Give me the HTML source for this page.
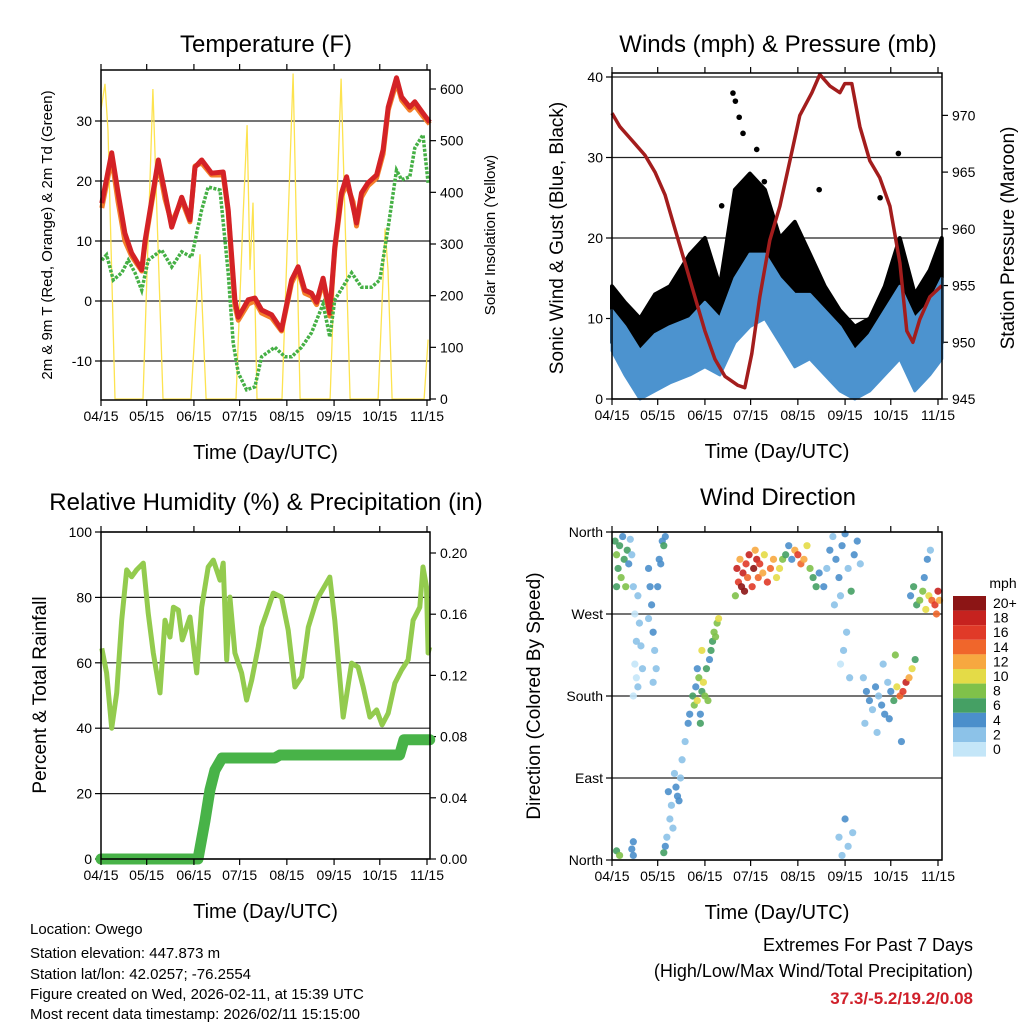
<!DOCTYPE html>
<html><head><meta charset="utf-8">
<style>
html,body{margin:0;padding:0;background:#fff;}
svg{display:block;font-family:"Liberation Sans",sans-serif;}
</style></head>
<body>
<svg id="c" width="1024" height="1024" viewBox="0 0 1024 1024">
<text x="30" y="934" font-size="15">Location: Owego</text>
<text x="30" y="958" font-size="15">Station elevation: 447.873 m</text>
<text x="30" y="979" font-size="15">Station lat/lon: 42.0257; -76.2554</text>
<text x="30" y="999" font-size="15">Figure created on Wed, 2026-02-11, at 15:39 UTC</text>
<text x="30" y="1019" font-size="15">Most recent data timestamp: 2026/02/11 15:15:00</text>
<text x="973" y="951" font-size="18" text-anchor="end">Extremes For Past 7 Days</text>
<text x="973" y="977" font-size="18" text-anchor="end">(High/Low/Max Wind/Total Precipitation)</text>
<text x="973" y="1004" font-size="17" font-weight="bold" fill="#d0202a" text-anchor="end">37.3/-5.2/19.2/0.08</text>
</svg>
<script>
// ---- shared x-axis ----
const xTickLabels = ["04/15","05/15","06/15","07/15","08/15","09/15","10/15","11/15"];
const xTickDays = [0,30,61,91,122,153,183,214];
// ---- temperature ----
const tempRedDays = [0.5,7,11.2,15.7,20.1,26.7,28.9,37.6,42,46.4,53,58.4,61.7,66.1,72.6,80.2,83.5,87.9,90.1,96.6,101,105.4,112,118.5,125.1,129.4,133.8,138.2,141.5,145.8,150.2,153.5,157.9,161.2,165.5,167.7,171,175.3,180.9,185.2,188.5,194,197.3,202.7,206,211.4,215.8];
const tempRedVals = [16.3,24.7,18,11.3,8,5.2,10,23.5,18,12.3,17.3,13.5,22.3,23.5,21.3,21.5,15.2,0.2,-2.7,0.2,0.5,-1.5,-2.3,-4.8,3.5,5.7,1.8,1.3,-0.2,3.8,-2,9,18,20.7,15.7,13,18,19.7,21,25.2,32.3,37.2,34,32.3,33.2,31.3,29.8];
const tempOrangeVals = [15.5,23.8,16.5,10,7.5,5,9.5,23,17,13,16.8,13.2,22.5,23,21,21,14.8,-0.8,-3.2,-0.5,0,-2,-2.8,-5,3,5.2,1.3,0.8,-0.6,3.3,-2.5,8.5,17.5,19.5,16.5,12.5,17.3,19.2,20.5,24.5,31.8,36.5,33.5,31.8,32.6,30.8,29.5];
const tdDays = [0.5,3.7,8.1,13.6,17.9,22.3,26.7,31,39.8,46.4,53,59.5,66.1,70.4,78.1,83.5,86.8,90.1,95.6,101,105.4,114.1,120.7,125.1,131.7,138.2,145.8,150.2,153.5,164.5,171,177.6,183,188.5,194,197.3,202.7,206,211.4,214.7];
const tdVals = [6.8,7.7,3.5,4.7,6.8,4.7,1.8,6.8,8.5,5.7,8.2,7.3,15.2,19,18.5,4.7,-7,-12,-14.8,-14.3,-9.3,-7.7,-9.3,-9.3,-7.7,-5.3,-0.5,-6,0.2,4.7,2.3,2.3,3.5,12.3,21.8,20.2,20.7,25.5,27.7,19.7];
const solarDays = [0,2.6,4.6,9.2,27.6,34.1,40.7,59.1,62,65,69,88.6,93.2,95.9,97.8,99.8,102.4,118.8,126.1,130.7,150.4,157.6,163.5,181.9,186.5,188.4,191.1,212.1,214.7];
const solarVals = [560,610,520,0,0,600,0,0,150,280,0,0,350,530,250,380,0,0,630,0,0,620,0,0,330,250,0,0,115];
const tempTicks = [-10,0,10,20,30];
const solarTicks = [0,100,200,300,400,500,600];
// ---- winds ----
const windDays = [0,8.5,18.4,28.2,38,51.2,61,70.8,80.7,90.5,100.4,110.2,120,129.9,139.7,149.6,159.4,169.2,179.1,188.9,198.8,208.6,216.5];
const gustLo = [7,5,2,3,5,7,7,5,10,12,12,9,8,7,5,3,1,2,5,7,3,5,7];
const gustHi = [14,12,10,13,14,18,20,14,26,28,26,20,22,18,14,11,9,10,14,20,13,16,20];
const windLo = [6,3,0,1,2,3,4,3,7,9,10,7,4,5,3,1,0,1,3,5,1,3,5];
const windHi = [11,9,6,8,9,10,12,10,15,18,18,15,13,13,11,9,6,8,11,14,10,12,15];
const gustOutDays = [79.4,81,83.5,86,100,136,188,95,72,176];
const gustOutVals = [38,37,35,33,27,26,30.5,31,24,25];
const presDays = [0,5.2,11.8,21.6,28.2,34.8,41.3,47.9,54.4,61,67.6,74.1,82.7,87.2,91.8,97,103.6,110.2,116.8,123.3,131.2,136.4,143,149.6,152.8,157.4,162.7,169.2,175.8,182.4,189,193.5,197.5,202,208.6,216.5];
const presVals = [970.2,969,968,966.5,965,963,960,957,954,951,948.5,947,946.2,946,949,954,959,962,966,970,972,973.6,972.6,972,972.8,972.8,969,966,964.5,962,957,951,950,952,954,955];
const windTicks = [0,10,20,30,40];
const presTicks = [945,950,955,960,965,970];
// ---- humidity / precip ----
const rhDays = [0.5,3.7,7,10.3,13.6,16.9,20.1,23.4,27.8,31,34.3,38.7,42,45.3,47.5,50.8,53.4,58.4,62.8,66.1,70.4,73.7,78.1,80.2,82.5,84.6,87.9,92.3,95.6,98.9,103.2,105.4,108.7,113.1,118.5,122.9,127.3,131.7,136.1,141.5,150.2,153.5,159,164.5,168.8,172.1,176.5,180.9,184.5,188.5,192.9,197.3,201.6,204.9,209.3,211.4,213.7,214.7,215.8];
const rhVals = [64.4,56.9,40,50.8,73,88.4,86.3,88.4,90.5,75.2,63,50.8,73,67.9,77,76.1,67,74,56.9,77,89.3,91.4,85.3,90.5,60.9,80.1,63,56.9,48.6,54.7,64.8,70.9,75.2,81.3,80.1,70,52.6,55.7,70.9,79.2,86.2,73,43.4,59.9,58.7,52.6,43.4,45.6,41,44.6,53.8,57.8,60.9,73,77,89.3,83.2,63,64.8];
const prDays = [0,63.7,68.3,71.5,74.8,79.4,114,117.5,196,198.9,215.8];
const prVals = [0,0,0.025,0.045,0.058,0.066,0.066,0.068,0.068,0.078,0.078];
const rhTicks = [0,20,40,60,80,100];
const prTicks = [0,0.04,0.08,0.12,0.16,0.20];
// ---- wind direction ----
const dirLabels = ["North","East","South","West","North"];
const dirTicks = [0,90,180,270,360];
const speedBins = ["0","2","4","6","8","10","12","14","16","18","20+"];
const speedColors = ["#c4e6f8","#8cc2e8","#4b8fcb","#45a064","#80c14a","#e4db47","#f7a840","#f0662b","#e03a28","#c6221f","#8c1515"];
const dirDays = [2,3,4,5,6,7,8,9,10,11,12,3, 13,14,15,16,15,16,17,14,18,19,17,20, 24,25,26,27,28,24,30,31,33,34,35,32,29,27, 3,5,14,14,13, 34,36,38,39,40,37,42,43,45,46,48,50,51,35,44,41, 53,54,55,56,57,58,59,60,61,62,63,64,65,66,67,68,69,70,56,58,59, 81,82,83,84,85,86,88,89,90,92,93,95,96,97,99,100,102,104,106,108,87,94, 110,112,114,116,118,120,122,124,126,128,130,132,134,136, 139,141,143,145,147,149,151,153,155,157,159,161,163,150,146, 150,152,154,156,149,151,155,158,153, 165,167,169,171,173,175,177,179,181,183,185,187,189,191,193,195,197,199,166,174,182,190,178,186, 196,198,200,202,204,206,208,210,212,214,213,215,205,207,209];
const dirVals = [350,335,320,345,310,355,330,300,340,325,352,300, 335,300,270,240,215,200,190,180,260,235,290,210, 320,300,280,250,230,265,300,330,350,345,355,325,210,195, 10,5,20,5,12, 8,25,45,60,35,75,80,70,90,110,130,150,160,15,65,95, 180,170,190,175,200,160,185,195,180,210,175,220,230,240,250,245,260,265,210,150,230, 290,320,305,330,300,315,325,310,335,300,320,330,310,325,315,335,305,320,330,310,295,340, 320,330,335,345,330,340,335,325,330,345,320,310,300,315, 300,320,340,355,330,310,345,358,320,295,335,350,325,290,280, 215,230,250,200,25,5,15,30,45, 200,185,175,165,190,180,170,160,195,185,175,190,180,185,195,200,210,220,150,140,155,130,215,225, 290,300,280,285,295,275,290,285,280,295,270,285,310,330,340];
const dirSpeeds = [6,7,6,5,7,4,6,7,5,3,2,6, 1,1,0,1,0,0,1,0,2,1,1,2, 3,4,3,3,2,2,4,4,4,5,4,3,2,1, 6,7,3,4,4, 6,2,1,2,1,3,4,4,2,1,2,3,4,4,3,1, 6,7,4,9,8,4,6,10,8,6,7,4,5,6,7,8,7,10,3,5,9, 8,18,16,12,20,18,16,14,18,16,20,18,14,16,12,10,16,14,12,10,20,12, 10,8,6,4,4,12,16,14,12,10,8,6,6,4, 4,2,3,2,4,3,4,4,2,6,3,4,2,2,1, 0,2,1,1,2,1,2,1,3, 2,4,3,2,4,1,3,4,2,3,6,10,14,16,18,12,10,6,2,1,3,4,2,8, 4,5,6,8,7,9,10,14,16,18,14,12,4,3,2];

const NS="http://www.w3.org/2000/svg";
const svg=document.getElementById('c');
function el(tag,attrs,parent){const e=document.createElementNS(NS,tag);for(const k in attrs)e.setAttribute(k,attrs[k]);(parent||svg).appendChild(e);return e;}
function txt(s,attrs,parent){const e=el('text',attrs,parent);e.textContent=s;return e;}
function lin(d0,d1,r0,r1){return v=>r0+(v-d0)*(r1-r0)/(d1-d0);}
function pathOf(xs,ys,fx,fy){return xs.map((d,i)=>(i?'L':'M')+fx(d).toFixed(1)+','+fy(ys[i]).toFixed(1)).join('');}

function frame(P,name){
  const g=el('g',{});
  
  
  return g;
}
function xAxis(g,P,fx){
  xTickDays.forEach((d,i)=>{
    const x=fx(d);
    el('line',{x1:x,x2:x,y1:P.b,y2:P.b+6,stroke:'#000','stroke-width':1.2},g);
    el('line',{x1:x,x2:x,y1:P.t,y2:P.t-6,stroke:'#000','stroke-width':1.2},g);
    const t=txt(xTickLabels[i],{x:x,y:P.b+21,'font-size':14,'text-anchor':'middle'},g);
    
    
  });
  const t=txt('Time (Day/UTC)',{x:(P.l+P.r)/2,y:P.b+59,'font-size':20,'text-anchor':'middle'},g);
  
  
}
function yLeft(g,P,ticks,fy,labels,grid,dec){
  ticks.forEach((v,i)=>{
    const y=fy(v);
    if(grid) el('line',{x1:P.l,x2:P.r,y1:y,y2:y,stroke:'#222','stroke-width':1.2},g);
    el('line',{x1:P.l-6,x2:P.l,y1:y,y2:y,stroke:'#000','stroke-width':1.2},g);
    const t=txt(labels?labels[i]:(dec?v.toFixed(dec):v),{x:P.l-9,y:y+5,'font-size':14,'text-anchor':'end'},g);
    
    
  });
}
function yRight(g,P,ticks,fy,dec){
  ticks.forEach(v=>{
    const y=fy(v);
    el('line',{x1:P.r,x2:P.r+6,y1:y,y2:y,stroke:'#000','stroke-width':1.2},g);
    const t=txt(dec?v.toFixed(dec):String(v),{x:P.r+10,y:y+5,'font-size':14},g);
    
    
  });
}
function box(g,P){el('rect',{x:P.l,y:P.t,width:P.r-P.l,height:P.b-P.t,fill:'none',stroke:'#000','stroke-width':1.5},g);}
function rotText(g,s,x,y,size,name){
  const t=txt(s,{x:x,y:y,'font-size':size,'text-anchor':'middle',transform:`rotate(-90 ${x} ${y})`},g);
  
  
}
function title(g,s,x,y,name){
  const t=txt(s,{x:x,y:y,'font-size':24,'text-anchor':'middle'},g);
  
  
}

// ===== Panel 1: temperature =====
(function(){
  const P={l:101,r:430,t:70,b:400};
  const g=frame(P,'temperature-panel');
  const fx=lin(0,214,101,427), fy=lin(30,-10,121,361), fs=lin(0,600,399,89);
  yLeft(g,P,tempTicks,fy,null,true);
  yRight(g,P,solarTicks,fs);
  const s=el('path',{d:pathOf(solarDays,solarVals,fx,fs),fill:'none',stroke:'#fde34f','stroke-width':1.3},g);
  
  
  const o=el('path',{d:pathOf(tempRedDays,tempOrangeVals,fx,fy),fill:'none',stroke:'#f47f2a','stroke-width':5,'stroke-linejoin':'round'},g);
  
  
  const r=el('path',{d:pathOf(tempRedDays,tempRedVals,fx,fy),fill:'none',stroke:'#d42226','stroke-width':5,'stroke-linejoin':'round'},g);
  
  
  const d=el('path',{d:pathOf(tdDays,tdVals,fx,fy),fill:'none',stroke:'#45b045','stroke-width':3.5,'stroke-dasharray':'3 1.5'},g);
  
  
  box(g,P); xAxis(g,P,fx);
  title(g,'Temperature (F)',266,52,'temperature-title');
  rotText(g,'2m & 9m T (Red, Orange) & 2m Td (Green)',52,235,15,'temperature-y-title');
  rotText(g,'Solar Insolation (Yellow)',495,235,15,'solar-y-title');
})();

// ===== Panel 2: winds =====
(function(){
  const P={l:612,r:942,t:73,b:399};
  const g=frame(P,'winds-panel');
  const fx=lin(0,214,612,938), fy=lin(0,40,399,77), fp=lin(945,974,399,70);
  yLeft(g,P,windTicks,fy,null,true);
  yRight(g,P,presTicks,fp);
  const band=(lo,hi)=>pathOf(windDays,hi,fx,fy)+windDays.slice().reverse().map((d,i)=>'L'+fx(d).toFixed(1)+','+fy(lo[lo.length-1-i]).toFixed(1)).join('')+'Z';
  const gb=el('path',{d:band(gustLo,gustHi),fill:'#000',stroke:'#000','stroke-width':4,'stroke-linejoin':'round'},g);
  
  
  gustOutDays.forEach((d,i)=>{
    const c=el('circle',{cx:fx(d),cy:fy(gustOutVals[i]),r:2.8,fill:'#000'},g);
    
    
  });
  const wb=el('path',{d:band(windLo,windHi),fill:'#4c93cf',stroke:'#4c93cf','stroke-width':3,'stroke-linejoin':'round'},g);
  
  
  const p=el('path',{d:pathOf(presDays,presVals,fx,fp),fill:'none',stroke:'#a31d1d','stroke-width':3.5,'stroke-linejoin':'round'},g);
  
  
  box(g,P); xAxis(g,P,fx);
  title(g,'Winds (mph) & Pressure (mb)',778,52,'winds-title');
  rotText(g,'Sonic Wind & Gust (Blue, Black)',563,238,19,'wind-y-title');
  rotText(g,'Station Pressure (Maroon)',1014,238,19,'pressure-y-title');
})();

// ===== Panel 3: RH & precip =====
(function(){
  const P={l:101,r:430,t:532,b:859};
  const g=frame(P,'humidity-panel');
  const fx=lin(0,214,101,427), fy=lin(0,100,859,532), fp=lin(0,0.2,859,553);
  yLeft(g,P,rhTicks,fy,null,true);
  yRight(g,P,prTicks,fp,2);
  const r=el('path',{d:pathOf(rhDays,rhVals,fx,fy),fill:'none',stroke:'#93cb4e','stroke-width':5,'stroke-linejoin':'round'},g);
  
  
  const p=el('path',{d:pathOf(prDays,prVals,fx,fp),fill:'none',stroke:'#48b348','stroke-width':11,'stroke-linejoin':'round','stroke-linecap':'round'},g);
  
  
  box(g,P); xAxis(g,P,fx);
  title(g,'Relative Humidity (%) & Precipitation (in)',266,510,'humidity-title');
  rotText(g,'Percent & Total Rainfall',46,695,19,'humidity-y-title');
})();

// ===== Panel 4: wind direction =====
(function(){
  const P={l:612,r:942,t:532,b:860};
  const g=frame(P,'direction-panel');
  const fx=lin(0,214,612,938), fy=lin(0,360,860,532);
  yLeft(g,P,dirTicks,fy,dirLabels,true);
  dirDays.forEach((d,i)=>{
    const c=el('circle',{cx:fx(d),cy:fy(dirVals[i]),r:3.6,fill:speedColors[Math.min(10,Math.round(dirSpeeds[i]/2))],'fill-opacity':0.9},g);
    
    
  });
  box(g,P); xAxis(g,P,fx);
  title(g,'Wind Direction',778,505,'direction-title');
  rotText(g,'Direction (Colored By Speed)',540,696,19,'direction-y-title');
  const lg=el('g',{},g);
  
  
  txt('mph',{x:1003,y:588,'font-size':14,'text-anchor':'middle'},lg);
  const n=speedBins.length;
  speedBins.forEach((lab,i)=>{
    const k=n-1-i, y=596+i*14.6;
    const r=el('rect',{x:953,y:y,width:33,height:14.6,fill:speedColors[k]},lg);
    
    
    const t=txt(speedBins[k],{x:993,y:y+12,'font-size':14},lg);
    
    
  });
})();
</script>
</body></html>
